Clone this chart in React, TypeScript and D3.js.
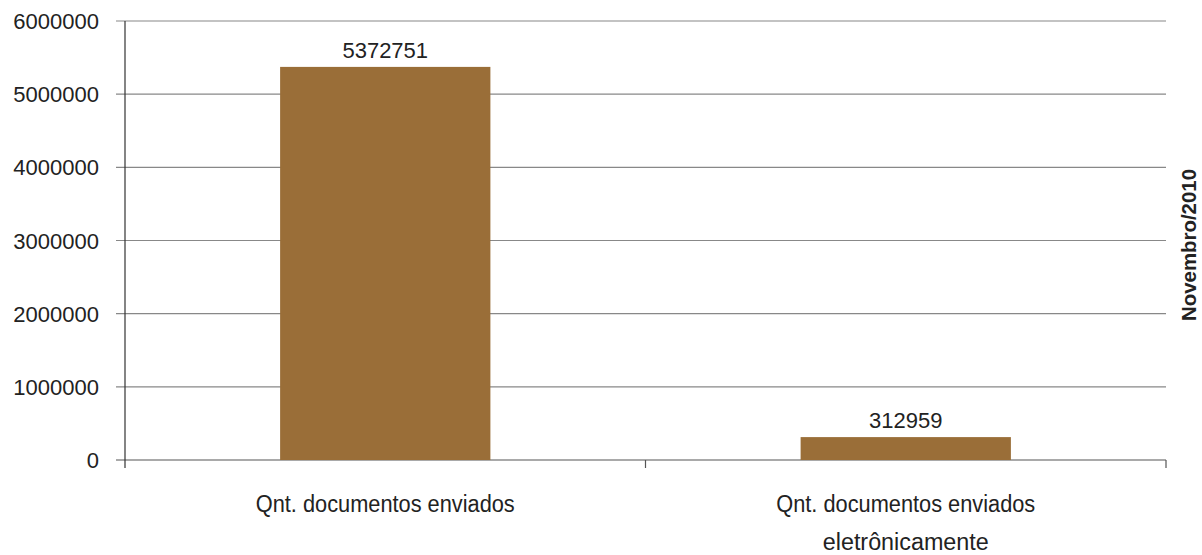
import React, { useEffect, useRef } from 'react';
import * as d3 from 'd3';

const categories = ['Qnt. documentos enviados', 'Qnt. documentos enviados eletrônicamente'];
const categoryLines = [['Qnt. documentos enviados'], ['Qnt. documentos enviados', 'eletrônicamente']];
const values = [5372751, 312959];
const yTicks = [0, 1000000, 2000000, 3000000, 4000000, 5000000, 6000000];
const seriesName = 'Novembro/2010';

const App: React.FC = () => {
  const svgRef = useRef<SVGSVGElement>(null);

  useEffect(() => {
    if (!svgRef.current) return;
    const width = 1202;
    const height = 555;
    const left = 125, right = 1166, top = 21, bottom = 460;
    const font = 'Liberation Sans, Arial, sans-serif';

    const svg = d3.select(svgRef.current).html('');

    const x = d3.scaleBand<string>().domain(categories).range([left, right]).paddingInner(0.596).paddingOuter(0.298);
    const y = d3.scaleLinear().domain([0, 6000000]).range([bottom, top]);

    // gridlines
    svg.append('g').selectAll('line').data(yTicks).enter().append('line')
      .attr('x1', left - 9).attr('x2', right)
      .attr('y1', d => y(d)).attr('y2', d => y(d))
      .attr('stroke', d => d === 0 ? '#555' : '#888').attr('stroke-width', 1.2);

    // y tick labels
    svg.append('g').selectAll('text').data(yTicks).enter().append('text')
      .attr('x', 99).attr('y', d => y(d) + 8)
      .attr('text-anchor', 'end')
      .attr('font-family', font)
      .attr('font-size', 22).attr('fill', '#222')
      .text(d => String(d));

    // y axis line
    svg.append('line').attr('x1', left).attr('x2', left).attr('y1', top).attr('y2', bottom + 8)
      .attr('stroke', '#333').attr('stroke-width', 1.2);

    // x ticks
    const step = x.step();
    const xTickPos = [left + step, left + 2 * step];
    svg.append('g').selectAll('line').data(xTickPos).enter().append('line')
      .attr('x1', d => d).attr('x2', d => d).attr('y1', bottom).attr('y2', bottom + 8)
      .attr('stroke', '#555').attr('stroke-width', 1.2);

    // bars
    svg.append('g').selectAll('rect').data(values).enter().append('rect')
      .attr('x', (d, i) => x(categories[i])!)
      .attr('width', x.bandwidth())
      .attr('y', d => y(d))
      .attr('height', d => bottom - y(d))
      .attr('fill', '#9a6e38');

    // value labels
    svg.append('g').selectAll('text').data(values).enter().append('text')
      .attr('x', (d, i) => x(categories[i])! + x.bandwidth() / 2)
      .attr('y', d => y(d) - 9)
      .attr('text-anchor', 'middle')
      .attr('font-family', font)
      .attr('font-size', 22).attr('fill', '#222')
      .text(d => String(d));

    // category labels (condensed look via textLength)
    const lineLengths: Record<string, number> = { 'Qnt. documentos enviados': 259, 'eletrônicamente': 166 };
    categoryLines.forEach((lines, i) => {
      const cx = x(categories[i])! + x.bandwidth() / 2;
      lines.forEach((ln, j) => {
        svg.append('text')
          .attr('x', cx).attr('y', 512 + j * 38)
          .attr('text-anchor', 'middle')
          .attr('font-family', font)
          .attr('font-size', 23).attr('fill', '#222')
          .attr('textLength', lineLengths[ln])
          .attr('lengthAdjust', 'spacingAndGlyphs')
          .text(ln);
      });
    });

    // series label on right
    svg.append('text')
      .attr('transform', `translate(1196, 245) rotate(-90)`)
      .attr('text-anchor', 'middle')
      .attr('font-family', font)
      .attr('font-weight', 'bold')
      .attr('font-size', 20).attr('fill', '#222')
      .attr('textLength', 152)
      .attr('lengthAdjust', 'spacingAndGlyphs')
      .text(seriesName);

    svg.attr('width', width).attr('height', height);
  }, []);

  return (
    <svg ref={svgRef} width={1202} height={555} style={{ position: 'absolute', left: 0, top: 0, background: '#fff' }}></svg>
  );
};

export default App;
